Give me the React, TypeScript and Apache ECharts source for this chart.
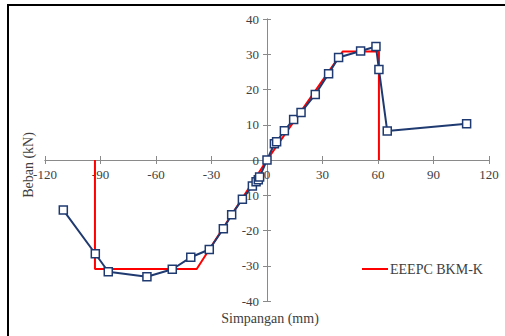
import React, { useEffect, useRef } from "react";
import * as echarts from "echarts";

const xTicks = { min: -120, max: 120, interval: 30 };
const yTicks = { min: -40, max: 40, interval: 10 };

const modelName = "EEEPC BKM-K";
const modelX = [-93, -93, -38, 0, 41, 60.5, 60.5];
const modelY = [0, -30.9, -30.9, 0, 30.8, 30.8, 0];

const testX = [-110.1, -92.8, -85.8, -64.9, -51.2, -41.2, -31.2, -23.6, -19.1, -13.3, -7.9, -5.9, -4.7, -4.0, 0, 4.0, 5.2, 9.4, 14.4, 18.4, 26.1, 33.3, 38.7, 50.6, 58.9, 60.5, 65.0, 107.9];
const testY = [-14.2, -26.6, -31.7, -33.1, -31.0, -27.6, -25.4, -19.5, -15.5, -11.1, -7.4, -6.2, -5.6, -4.8, 0, 4.6, 5.2, 8.3, 11.5, 13.5, 18.6, 24.5, 29.1, 30.9, 32.2, 25.7, 8.2, 10.3];

const FONT = "'Liberation Serif', 'Times New Roman', serif";
const AXIS_COLOR = "#8a8a8a";
const TEXT_COLOR = "#404040";
const NAVY = "#1f3a70";

const GRID = { left: 45, right: 16, top: 19, bottom: 35 };
const W = 505;
const H = 336;

export default function App() {
  const ref = useRef<HTMLDivElement>(null);
  useEffect(() => {
    document.body.style.margin = "0";
    const chart = echarts.init(ref.current!, undefined, { renderer: "svg" });
    const plotW = W - GRID.left - GRID.right;
    const plotH = H - GRID.top - GRID.bottom;
    // move axes to the zero lines (data-driven offsets)
    const xOff = -plotH * (0 - yTicks.min) / (yTicks.max - yTicks.min);
    const yOff = -plotW * (0 - xTicks.min) / (xTicks.max - xTicks.min);
    const baseX = {
      type: "value",
      ...xTicks,
      position: "bottom",
      offset: xOff,
      axisLine: { onZero: false, lineStyle: { color: AXIS_COLOR, width: 1 } },
      splitLine: { show: false },
    };
    const baseY = {
      type: "value",
      ...yTicks,
      position: "left",
      offset: yOff,
      axisLine: { onZero: false, lineStyle: { color: AXIS_COLOR, width: 1 } },
      splitLine: { show: false },
    };
    chart.setOption({
      animation: false,
      backgroundColor: "#ffffff",
      textStyle: { fontFamily: FONT },
      grid: GRID,
      xAxis: [
        {
          ...baseX,
          axisTick: { show: true, length: 4, lineStyle: { color: AXIS_COLOR } },
          axisLabel: { color: TEXT_COLOR, fontFamily: FONT, fontSize: 13, margin: 8 },
        },
        {
          ...baseX,
          axisTick: { show: true, inside: true, length: 4, lineStyle: { color: AXIS_COLOR } },
          axisLabel: { show: false },
        },
      ],
      yAxis: [
        {
          ...baseY,
          axisTick: { show: true, length: 4, lineStyle: { color: AXIS_COLOR } },
          axisLabel: { color: TEXT_COLOR, fontFamily: FONT, fontSize: 13, margin: 8 },
        },
        {
          ...baseY,
          axisTick: { show: true, inside: true, length: 4, lineStyle: { color: AXIS_COLOR } },
          axisLabel: { show: false },
        },
      ],
      legend: {
        left: 357,
        top: 257,
        icon: "rect",
        itemWidth: 26,
        itemHeight: 2,
        itemGap: 4,
        data: [modelName],
        textStyle: { color: TEXT_COLOR, fontFamily: FONT, fontSize: 14, padding: [0, 0, 0, -3] },
      },
      series: [
        {
          name: modelName,
          type: "line",
          symbol: "none",
          data: modelX.map((x, i) => [x, modelY[i]]),
          lineStyle: { color: "#ff0000", width: 2 },
          itemStyle: { color: "#ff0000" },
          z: 2,
        },
        {
          name: "Test",
          type: "line",
          symbol: "rect",
          symbolSize: 8,
          data: testX.map((x, i) => [x, testY[i]]),
          lineStyle: { color: NAVY, width: 2 },
          itemStyle: { color: "#ffffff", borderColor: NAVY, borderWidth: 1.5 },
          z: 3,
        },
      ],
      graphic: [
        {
          type: "rect",
          shape: { x: 8, y: 5, width: 520, height: 360 },
          style: { fill: "none", stroke: "#000000", lineWidth: 2 },
          silent: true,
        },
        {
          type: "text",
          x: 28,
          y: 165,
          rotation: Math.PI / 2,
          style: {
            text: "Beban (kN)",
            fontFamily: FONT,
            fontSize: 14,
            fill: TEXT_COLOR,
            align: "center",
            verticalAlign: "middle",
          },
        },
        {
          type: "text",
          x: 270,
          y: 318,
          style: {
            text: "Simpangan (mm)",
            fontFamily: FONT,
            fontSize: 14,
            fill: TEXT_COLOR,
            align: "center",
            verticalAlign: "middle",
          },
        },
      ],
    });
    return () => chart.dispose();
  }, []);
  return <div ref={ref} style={{ width: W, height: H }} />;
}
